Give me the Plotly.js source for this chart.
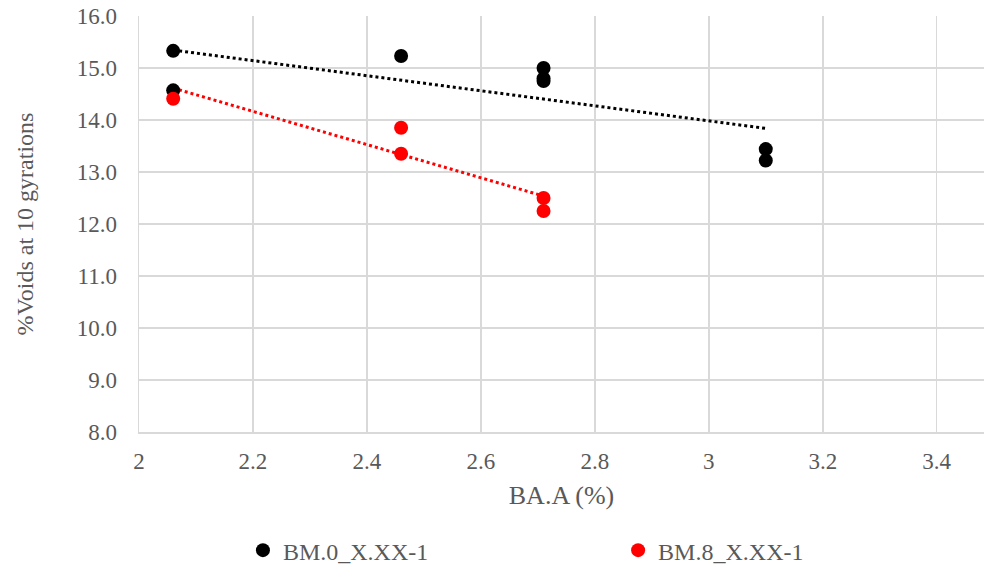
<!DOCTYPE html>
<html>
<head>
<meta charset="utf-8">
<script src="https://cdn.plot.ly/plotly-3.0.1.min.js"></script>
<style>html,body{margin:0;padding:0;background:#fff;}#chart{width:985px;height:574px;}</style>
</head>
<body>
<div id="chart"></div>
<script>
// Data
const seriesNames = ["BM.0_X.XX-1", "BM.8_X.XX-1"];
const bm0X = [2.06, 2.06, 2.46, 2.71, 2.71, 2.71, 3.10, 3.10];
const bm0Y = [15.33, 14.57, 15.23, 15.00, 14.80, 14.75, 13.44, 13.22];
const bm8X = [2.06, 2.46, 2.46, 2.71, 2.71];
const bm8Y = [14.41, 13.85, 13.35, 12.50, 12.25];
const xTicks = [2, 2.2, 2.4, 2.6, 2.8, 3, 3.2, 3.4];
const yTicks = [8, 9, 10, 11, 12, 13, 14, 15, 16];
const refLines = [11, 15];

function fit(xs, ys) {
  const n = xs.length;
  const mx = xs.reduce((a, b) => a + b, 0) / n;
  const my = ys.reduce((a, b) => a + b, 0) / n;
  let sxy = 0, sxx = 0;
  for (let i = 0; i < n; i++) { sxy += (xs[i] - mx) * (ys[i] - my); sxx += (xs[i] - mx) ** 2; }
  const m = sxy / sxx, b = my - m * mx;
  const x0 = Math.min(...xs), x1 = Math.max(...xs);
  return { x: [x0, x1], y: [m * x0 + b, m * x1 + b] };
}
const t0 = fit(bm0X, bm0Y), t8 = fit(bm8X, bm8Y);

const serif = "Liberation Serif";
const traces = [
  { x: t0.x, y: t0.y, mode: "lines", line: { color: "#000000", width: 3, dash: "dot" }, showlegend: false, hoverinfo: "skip" },
  { x: t8.x, y: t8.y, mode: "lines", line: { color: "#ff0000", width: 3, dash: "dot" }, showlegend: false, hoverinfo: "skip" },
  { x: bm0X, y: bm0Y, name: seriesNames[0], mode: "markers", type: "scatter", marker: { color: "#000000", size: 14 }, legend: "legend" },
  { x: bm8X, y: bm8Y, name: seriesNames[1], mode: "markers", type: "scatter", marker: { color: "#ff0000", size: 14 }, legend: "legend2" }
];

const legendBase = {
  orientation: "h", xanchor: "left", y: -0.285, yanchor: "middle",
  font: { family: serif, size: 24, color: "#595959" },
  itemwidth: 30, bgcolor: "rgba(0,0,0,0)"
};

const layout = {
  width: 985, height: 574,
  margin: { l: 139, r: 1, t: 16, b: 139 },
  paper_bgcolor: "#ffffff", plot_bgcolor: "#ffffff",
  font: { family: serif, color: "#595959", size: 23 },
  showlegend: true,
  xaxis: {
    range: [2, 3.483], tickvals: xTicks, ticktext: xTicks.map(String),
    showgrid: true, gridcolor: "#d9d9d9", gridwidth: 1.5,
    showline: true, linecolor: "#d9d9d9", linewidth: 1.5,
    zeroline: false, ticks: "", ticklen: 0, ticklabelstandoff: 8,
    tickfont: { family: serif, size: 23, color: "#595959" },
    title: { text: "BA.A (%)", font: { family: serif, size: 26, color: "#595959" }, standoff: 12 }
  },
  yaxis: {
    range: [8, 16], tickvals: yTicks, ticktext: yTicks.map(v => v.toFixed(1)),
    showgrid: true, gridcolor: "#d9d9d9", gridwidth: 1.5,
    showline: true, linecolor: "#d9d9d9", linewidth: 1.5,
    zeroline: false, ticks: "", ticklen: 0, ticklabelstandoff: 16,
    tickfont: { family: serif, size: 23, color: "#595959" },
    title: { text: "%Voids at 10 gyrations", font: { family: serif, size: 24, color: "#595959" }, standoff: 36 }
  },
  shapes: refLines.map(v => ({ type: "line", xref: "paper", x0: 0, x1: 1, yref: "y", y0: v, y1: v, line: { color: "#333333", width: 1.5 }, layer: "between" })),
  legend: Object.assign({}, legendBase, { x: 0.123 }),
  legend2: Object.assign({}, legendBase, { x: 0.567 })
};

Plotly.newPlot("chart", traces, layout, { displayModeBar: false, staticPlot: true });
</script>
</body>
</html>
